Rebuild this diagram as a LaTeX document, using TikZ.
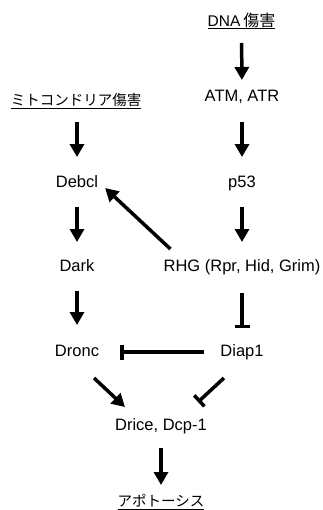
\documentclass[tikz,border=0pt]{standalone}
\usepackage{fontspec}
\setmainfont{Liberation Sans}
\newfontfamily\jp{Noto Sans CJK JP}
\usetikzlibrary{arrows.meta}
\begin{document}
\begin{tikzpicture}[x=1pt,y=-1pt,
  lbl/.style={font=\fontsize{16.5}{18}\selectfont, text height=12pt, text depth=3.5pt, inner sep=0pt, outer sep=0pt},
  jlbl/.style={font=\jp\fontsize{14.5}{16}\selectfont, text height=12pt, text depth=2pt, inner sep=0pt, outer sep=0pt, anchor=base},
  arr/.style={line width=3.5pt, -{Triangle[length=13pt,width=14pt]}},
  inh/.style={line width=3.5pt, -{Bar[width=15pt,line width=3.5pt]}},
  ul/.style={line width=0.9pt}]
\path[use as bounding box, fill=white] (0,0) rectangle (323,510);

\node[jlbl] (dna) at (241.5,26.5) {{\fontsize{15.5}{16}\selectfont\rmfamily DNA}\hspace{3pt}{\fontsize{16}{17}\selectfont 傷害}};
\node[jlbl] (mito) at (76,105.5) {ミトコンドリア傷害};
\node[lbl] (atm) at (242,97.5) {ATM, ATR};
\node[lbl] (debcl) at (77,183.3) {Debcl};
\node[lbl] (p53) at (242,183.3) {p53};
\node[lbl] (dark) at (77,267.5) {Dark};
\node[lbl] (rhg) at (242,267.5) {RHG (Rpr, Hid, Grim)};
\node[lbl] (dronc) at (77,352) {Dronc};
\node[lbl] (diap) at (242,352) {Diap1};
\node[lbl] (drice) at (161,426.3) {Drice, Dcp-1};
\node[jlbl] (apo) at (161,506) {アポトーシス};

\draw[ul] ([yshift=-2pt]dna.base west) -- ([yshift=-2pt]dna.base east);
\draw[ul] ([yshift=-2.5pt]mito.base west) -- ([yshift=-2.5pt]mito.base east);
\draw[ul] ([yshift=-3pt]apo.base west) -- ([yshift=-3pt]apo.base east);

\draw[arr, shorten <=14.3pt, shorten >=9.75pt] (dna) -- (atm);
\draw[arr, shorten <=16.75pt, shorten >=18.5pt] (atm) -- (p53);
\draw[arr, shorten <=15pt, shorten >=18.5pt] (mito.south -| debcl) -- (debcl);
\draw[arr, shorten <=16pt, shorten >=17.75pt] (debcl) -- (dark);
\draw[arr, shorten <=16pt, shorten >=17.75pt] (p53) -- (rhg);
\draw[inh, shorten <=17.75pt, shorten >=16.25pt] (rhg) -- (diap);
\draw[arr, shorten <=15.75pt, shorten >=19.25pt] (dark) -- (dronc);
\draw[inh, shorten <=16.5pt, shorten >=21pt] (diap) -- (dronc);
\draw[arr, shorten <=14pt, shorten >=9pt] (drice) -- (apo.north);
\draw[arr] ([xshift=6.8pt,yshift=10.75pt]rhg.north west) -- ([xshift=7pt,yshift=-4.7pt]debcl.east);
\draw[arr] ([xshift=-5pt,yshift=-18.25pt]dronc.south east) -- ([xshift=9.8pt,yshift=11.5pt]drice.north west);
\draw[inh] ([xshift=3.5pt,yshift=-18.25pt]diap.south west) -- ([xshift=-8.8pt,yshift=16.5pt]drice.north east);
\end{tikzpicture}
\end{document}
